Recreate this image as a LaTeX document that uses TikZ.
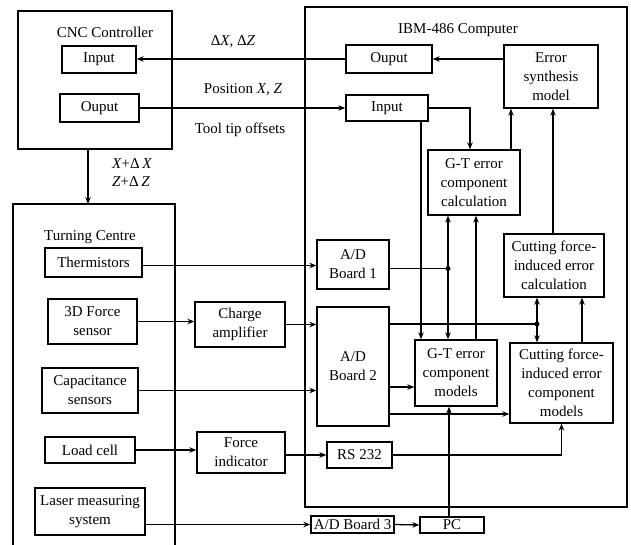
\documentclass[tikz,border=0pt]{standalone}
\usepackage{fontspec}
\setmainfont{Liberation Serif}
\usetikzlibrary{arrows.meta,calc}
\begin{document}
\begin{tikzpicture}[x=1pt,y=-1pt, line width=1.3pt,
  box/.style={draw, rectangle, inner sep=0pt, align=center, font=\fontsize{15}{19}\selectfont},
  sz/.style 2 args={minimum width=#1pt, minimum height=#2pt},
  lbl/.style={inner sep=0pt, align=center, font=\fontsize{15}{19}\selectfont},
  arr/.style={-{Stealth[length=7pt,width=5.5pt]}},
  arrr/.style={{Stealth[length=7pt,width=5.5pt]}-{Stealth[length=7pt,width=5.5pt]}},
  dot/.style={circle, fill, inner sep=0pt, minimum size=5pt}]
\useasboundingbox (0,0) rectangle (631,545);

% CNC controller
\node[box, sz={154}{138}] (cnc) at (95,80) {};
\node[lbl] (cnclbl) at (105,32) {CNC Controller};
\node[box, sz={74}{27}] (cncin) at (99,59.5) {Input};
\node[box, sz={79}{28}] (cncout) at (99.5,108) {Ouput};

% IBM computer
\node[box, sz={322}{500}] (ibm) at (466,257) {};
\node[lbl] (ibmlbl) at (458,30) {IBM-486 Computer};
\node[box, sz={86}{28}] (pcout) at (389,59) {Ouput};
\node[box, sz={94}{63}] (esm) at (551,76.5) {Error\\synthesis\\model};
\node[box, sz={82}{26}] (pcin) at (387,108) {Input};
\node[box, sz={92}{65}] (gtcalc) at (474,182.5) {G-T error\\component\\calculation};
\node[box, sz={100}{63}] (cfcalc) at (554,265.5) {Cutting force-\\induced error\\calculation};
\node[box, sz={72}{49}] (ad1) at (353,264.5) {A/D\\Board 1};
\node[box, sz={72}{119}] (ad2) at (353,366.5) {A/D\\Board 2};
\node[box, sz={82}{66}] (gtmod) at (456,373) {G-T error\\component\\models};
\node[box, sz={103}{80}] (cfmod) at (561.5,383) {Cutting force-\\induced error\\component\\models};
\node[box, sz={65}{26}] (rs) at (359.5,455) {RS 232};

% outside, bottom
\node[box, sz={83}{17}] (ad3) at (352.5,524.5) {A/D Board 3};
\node[box, sz={64}{16}] (pc) at (452,525) {PC};

% Turning centre
\coordinate (tcA) at (13,545);
\coordinate (tcB) at (13,204);
\coordinate (tcC) at (175,204);
\coordinate (tcD) at (175,545);
\draw (tcA) -- (tcB) -- (tcC) -- (tcD);
\node[lbl] (tclbl) at (90,237) {Turning Centre};
\node[box, sz={97}{29}] (therm) at (93.5,262.5) {Thermistors};
\node[box, sz={89}{45}] (fs3d) at (92.5,321.5) {3D Force\\sensor};
\node[box, sz={90}{45}] (charge) at (240,324.5) {Charge\\amplifier};
\node[box, sz={96}{45}] (cap) at (90,390.5) {Capacitance\\sensors};
\node[box, sz={90}{26}] (load) at (90,450) {Load cell};
\node[box, sz={88}{41}] (force) at (241,452.5) {Force\\indicator};
\node[box, sz={110}{47}] (laser) at (90,511.5) {Laser measuring\\system};

% labels
\node[lbl] (l1) at (233,42) {Δ\textit{X}, Δ\textit{Z}};
\node[lbl] (l2) at (243,90) {Position \textit{X, Z}};
\node[lbl] (l3) at (240,130) {Tool tip offsets};
\node[lbl] (l4) at (132,164) {\textit{X}+Δ\,\textit{X}};
\node[lbl] (l5) at (131,182) {\textit{Z}+Δ\,\textit{Z}};

% connectors top
\draw[arr] (pcout.west) -- (pcout.west -| cncin.east);
\draw[arr] (cncout.east) -- (cncout.east -| pcin.west);
\draw[arr] (pcout.east -| esm.west) -- (pcout.east);
\coordinate (tctop) at (88,204);
\draw[arr] (cnc.south -| tctop) -- (tctop);
\draw[arr] (pcin.east) -| ([xshift=-4]gtcalc.north);
\draw[arr] ([xshift=34]pcin.south) -- ([xshift=34]pcin.south |- gtmod.north);
\draw[arr] ([xshift=37]gtcalc.north) -- ([xshift=37]gtcalc.north |- esm.south);
\draw[arr] ([xshift=-1]cfcalc.north) -- ([xshift=-1]cfcalc.north |- esm.south);

% G-T links
\coordinate (gx) at (448,0);
\coordinate (gy) at (476,0);
\draw[arrr] (gtcalc.south -| gx) -- (gtmod.north -| gx);
\draw[arr] (gtmod.north -| gy) -- (gtcalc.south -| gy);
\draw ([yshift=-4]ad1.east) -- ([yshift=-4]ad1.east -| gx);
\node[dot] (j1) at ([yshift=-4]ad1.east -| gx) {};

% cutting force links
\coordinate (cx) at (537,324);
\coordinate (cy) at (582,0);
\draw[arrr] (cfcalc.south -| cx) -- (cfmod.north -| cx);
\draw[arr] (cfmod.north -| cy) -- (cfcalc.south -| cy);
\draw (ad2.east |- cx) -- (cx);
\node[dot] (j2) at (cx) {};

% sensors
\draw[arr] ([yshift=-3]therm.east) -- ([yshift=-3]therm.east -| ad1.west);
\draw[arr] (fs3d.east) -- (fs3d.east -| charge.west);
\draw[arr] (charge.east) -- (charge.east -| ad2.west);
\draw[arr] (cap.east) -- (cap.east -| ad2.west);
\draw[arr] ([yshift=-20.5]ad2.east) -- ([yshift=-20.5]ad2.east -| gtmod.west);
\draw[arr] ([yshift=-47.5]ad2.east) -- ([yshift=-47.5]ad2.east -| cfmod.west);
\draw[arr] (load.east) -- (load.east -| force.west);
\draw[arr] (force.east |- rs.west) -- (rs.west);
\draw[arr] (rs.east) -| (cfmod.south);
\draw[arr] (laser.east |- ad3.west) -- (ad3.west);
\draw[arr] (ad3.east) -- (pc.west);
\draw[arr] ([xshift=-3]pc.north) -- ([xshift=-3]pc.north |- gtmod.south);
\end{tikzpicture}
\end{document}
